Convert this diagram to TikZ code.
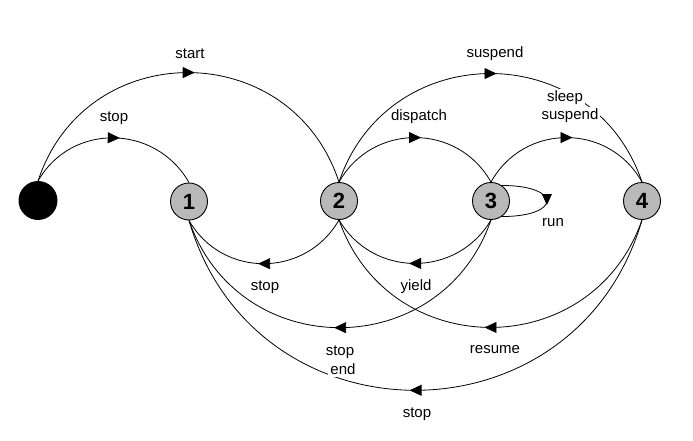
\documentclass[tikz,border=0pt]{standalone}
\usepackage{fontspec}
\setmainfont{Liberation Sans}
\usetikzlibrary{arrows.meta,decorations.markings}
\begin{document}
\begin{tikzpicture}[x=1pt,y=-1pt,
  st/.style={circle,draw=black,line width=0.9pt,fill=gray!55,minimum size=37pt,inner sep=0pt,
             font=\fontsize{22}{22}\selectfont\bfseries},
  lbl/.style={font=\fontsize{15}{17}\selectfont,inner sep=1pt},
  wlbl/.style={lbl,fill=white,inner sep=2pt},
  tr/.style={line width=0.8pt,postaction={decorate},
             decoration={markings,mark=at position 0.5 with {\arrow[xshift=6pt]{Triangle[length=12pt,width=11pt]}}}},
  lp/.style={line width=0.8pt,postaction={decorate},
             decoration={markings,mark=at position 0.5 with {\arrow[xshift=4pt]{Triangle[length=11pt,width=10pt]}}}}
]
\useasboundingbox (0,0) rectangle (693,441);
% states
\node[st,fill=black,minimum size=38pt] (s0) at (38,200.5) {};
\node[st] (s1) at (189,201.5) {1};
\node[st] (s2) at (339,201) {2};
\node[st] (s3) at (491,201) {3};
\node[st] (s4) at (642,201) {4};
% upper transitions (circular arcs)
\draw[tr] (s0.north) .. controls +(33.3,-58.6) and +(-33.3,-58.6) .. (s1.north);
\draw[tr] (s0.north) .. controls +(47.7,-145.3) and +(-47.7,-145.3) .. (s2.north);
\draw[tr] (s2.north) .. controls +(33.3,-59.3) and +(-33.3,-59.3) .. (s3.north);
\draw[tr] (s2.north) .. controls +(49.1,-144.7) and +(-49.1,-144.7) .. (s4.north);
\draw[tr] (s3.north) .. controls +(32.9,-59.3) and +(-32.9,-59.3) .. (s4.north);
% lower transitions
\draw[tr] (s2.south) .. controls +(-33.2,58) and +(33.2,58) .. (s1.south);
\draw[tr] (s3.south) .. controls +(-34,58) and +(34,58) .. (s2.south);
\draw[tr] (s3.south) .. controls +(-49.6,143.3) and +(49.6,143.3) .. (s1.south);
\draw[tr] (s4.south) .. controls +(-50.2,143.3) and +(50.2,143.3) .. (s2.south);
\draw[tr] (s4.south) .. controls +(-65.9,226.8) and +(65.9,226.8) .. (s1.south);
% self loop
\draw[lp] (s3.55) .. controls +(60,0) and +(60,0) .. (s3.-55);
% labels
\node[lbl] (lstart) at (190,54) {start};
\node[lbl] (lstop0) at (114,118) {stop};
\node[lbl] (lsusp) at (495,54) {suspend};
\node[lbl] (ldisp) at (419,117) {dispatch};
\node[wlbl] (lsleep) at (565,98) {sleep};
\node[wlbl] (lsusp2) at (570,116) {suspend};
\node[lbl] (lstop1) at (265,287) {stop};
\node[lbl] (lyield) at (416,287) {yield};
\node[lbl] (lstop2) at (340,352) {stop};
\node[wlbl] (lend) at (343,369) {end};
\node[lbl] (lres) at (495,350) {resume};
\node[lbl] (lstop3) at (417,414) {stop};
\node[lbl] (lrun) at (553,223) {run};
\end{tikzpicture}
\end{document}
